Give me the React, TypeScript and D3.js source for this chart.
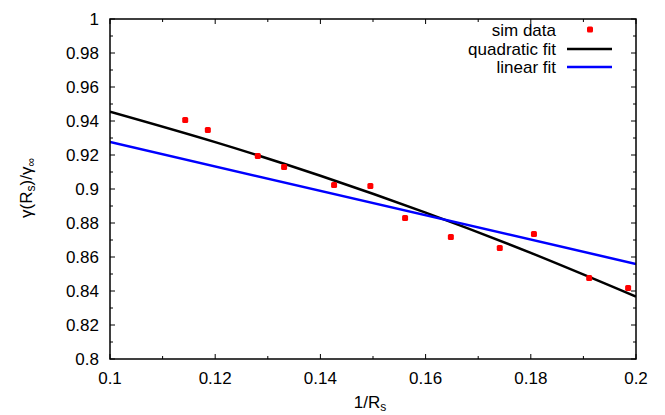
import React from "react";
import * as d3 from "d3";

const simX = [0.1143, 0.1186, 0.1281, 0.1331, 0.1426, 0.1495, 0.1561, 0.1648, 0.1741, 0.1806, 0.1911, 0.1985];
const simY = [0.9406, 0.9347, 0.9194, 0.9129, 0.9024, 0.9018, 0.8829, 0.8718, 0.8653, 0.8735, 0.8476, 0.8418];

const quadX = [0.1, 0.12, 0.14, 0.16, 0.18, 0.2];
const quadY = [0.9455, 0.9276, 0.9078, 0.8861, 0.8624, 0.8367];

const linX = [0.1, 0.2];
const linY = [0.9276, 0.8559];

const xTicks = [0.1, 0.12, 0.14, 0.16, 0.18, 0.2];
const xTickLabels = ["0.1", "0.12", "0.14", "0.16", "0.18", "0.2"];
const yTicks = [0.8, 0.82, 0.84, 0.86, 0.88, 0.9, 0.92, 0.94, 0.96, 0.98, 1];
const yTickLabels = ["0.8", "0.82", "0.84", "0.86", "0.88", "0.9", "0.92", "0.94", "0.96", "0.98", "1"];
const xMinor = [0.11, 0.13, 0.15, 0.17, 0.19];
const yMinor = [0.81, 0.83, 0.85, 0.87, 0.89, 0.91, 0.93, 0.95, 0.97, 0.99];

const legendLabels = ["sim data", "quadratic fit", "linear fit"];

export default function App() {
  const W = 665, H = 415;
  const L = 110, R = 636, T = 19, B = 359;
  const x = d3.scaleLinear().domain([0.1, 0.2]).range([L, R]);
  const y = d3.scaleLinear().domain([0.8, 1]).range([B, T]);
  const font = "'Liberation Sans', Arial, sans-serif";
  const fs = 17;

  const quadPts: [number, number][] = quadX.map((v, i) => [v, quadY[i]]);
  const linPts: [number, number][] = linX.map((v, i) => [v, linY[i]]);
  const quadPath = d3.line<[number, number]>().x(d => x(d[0])).y(d => y(d[1])).curve(d3.curveNatural)(quadPts) || "";
  const linPath = d3.line<[number, number]>().x(d => x(d[0])).y(d => y(d[1]))(linPts) || "";

  const major = 5, minor = 3;

  return (
    <svg width={W} height={H} style={{ position: "absolute", left: 0, top: 0, background: "#fff" }} fontFamily={font}>
      <rect x={0} y={0} width={W} height={H} fill="#fff" />
      <defs>
        <clipPath id="plotclip">
          <rect x={L} y={T} width={R - L} height={B - T} />
        </clipPath>
      </defs>
      <g stroke="#000" strokeWidth={1}>
        {xTicks.map((t, i) => (
          <g key={"xt" + i}>
            <line x1={x(t)} x2={x(t)} y1={B} y2={B - major} />
            <line x1={x(t)} x2={x(t)} y1={T} y2={T + major} />
          </g>
        ))}
        {xMinor.map((t, i) => (
          <g key={"xm" + i}>
            <line x1={x(t)} x2={x(t)} y1={B} y2={B - minor} />
            <line x1={x(t)} x2={x(t)} y1={T} y2={T + minor} />
          </g>
        ))}
        {yTicks.map((t, i) => (
          <g key={"yt" + i}>
            <line x1={L} x2={L + major} y1={y(t)} y2={y(t)} />
            <line x1={R} x2={R - major} y1={y(t)} y2={y(t)} />
          </g>
        ))}
        {yMinor.map((t, i) => (
          <g key={"ym" + i}>
            <line x1={L} x2={L + minor} y1={y(t)} y2={y(t)} />
            <line x1={R} x2={R - minor} y1={y(t)} y2={y(t)} />
          </g>
        ))}
      </g>
      <g fontSize={fs} fill="#000">
        {xTicks.map((t, i) => (
          <text key={"xl" + i} x={x(t)} y={384} textAnchor="middle">{xTickLabels[i]}</text>
        ))}
        {yTicks.map((t, i) => (
          <text key={"yl" + i} x={99} y={y(t) + 6} textAnchor="end">{yTickLabels[i]}</text>
        ))}
      </g>
      <g clipPath="url(#plotclip)">
        <path d={quadPath} fill="none" stroke="#000" strokeWidth={2.5} />
        <path d={linPath} fill="none" stroke="#0000ff" strokeWidth={2.5} />
        {simX.map((v, i) => (
          <rect key={"p" + i} x={x(v) - 3} y={y(simY[i]) - 3} width={6} height={6} rx={1.5} fill="#ff0000" />
        ))}
      </g>
      <rect x={L} y={T} width={R - L} height={B - T} fill="none" stroke="#000" strokeWidth={1.5} />
      <g fontSize={fs} fill="#000">
        <text x={556} y={36} textAnchor="end">{legendLabels[0]}</text>
        <rect x={590 - 3} y={29.5 - 3} width={6} height={6} rx={1.5} fill="#ff0000" />
        <text x={556} y={55} textAnchor="end">{legendLabels[1]}</text>
        <line x1={567} x2={612} y1={49} y2={49} stroke="#000" strokeWidth={2.5} />
        <text x={556} y={73} textAnchor="end">{legendLabels[2]}</text>
        <line x1={567} x2={612} y1={67} y2={67} stroke="#0000ff" strokeWidth={2.5} />
      </g>
      <text x={370} y={408} textAnchor="middle" fontSize={fs}>
        1/R<tspan fontSize={12} dy={3}>s</tspan>
      </text>
      <text transform="translate(32,188) rotate(-90)" textAnchor="middle" fontSize={fs}>
        γ(R<tspan fontSize={12} dy={3}>s</tspan><tspan dy={-3}>)/γ</tspan><tspan fontSize={12} dy={3}>∞</tspan>
      </text>
    </svg>
  );
}
